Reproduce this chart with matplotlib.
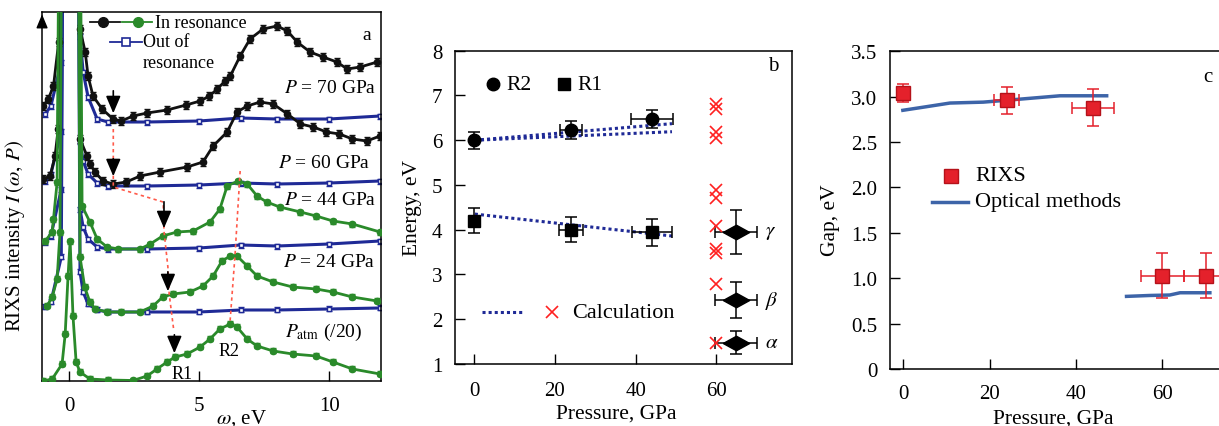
import numpy as np
import matplotlib
matplotlib.use("Agg")
import matplotlib.pyplot as plt

plt.rcParams['font.family'] = 'serif'
plt.rcParams['font.serif'] = ['Liberation Serif', 'DejaVu Serif']
plt.rcParams['mathtext.fontset'] = 'stix'
plt.rcParams['font.size'] = 14

# ---------------- (a) RIXS spectra ----------------
# in resonance, intensity above each baseline
w70 = [-1.0, -0.8, -0.6, -0.4, 0.05, 0.42, 0.62, 0.73, 0.92, 1.27, 1.69, 2.0, 2.46, 3.0, 3.77, 4.5, 5.04,
       5.4, 5.7, 6.0, 6.2, 6.58, 6.96, 7.46, 8.0, 8.4, 8.77, 9.27, 9.77, 10.3, 10.7, 11.2, 11.85]
i70 = [16, 23, 36, 80, 2000, 93, 70, 46, 26, 13, 3, 1, 6, 9, 12, 17, 21,
       26, 33, 41, 46, 66, 83, 93, 96, 91, 80, 70, 65, 60, 53, 55, 60]
w60 = [-1.0, -0.73, -0.54, -0.42, 0.05, 0.42, 0.69, 0.8, 1.0, 1.3, 1.7, 2.2, 2.73, 3.5, 4.54, 5.15, 5.54,
       6.08, 6.46, 6.85, 7.35, 7.85, 8.4, 8.9, 9.4, 9.9, 10.4, 10.9, 11.45, 11.96]
i60 = [7, 10, 30, 57, 2000, 47, 30, 22, 14, 5, 2, 4, 10, 14, 19, 24, 40,
       54, 74, 80, 84, 82, 72, 62, 59, 54, 52, 47, 45, 50]
w44 = [-0.92, -0.65, -0.6, -0.46, 0.05, 0.5, 0.8, 1.08, 1.46, 1.9, 2.73, 3.12, 3.6, 4.15, 4.77, 5.42, 5.8,
       6.08, 6.5, 6.85, 7.23, 7.6, 8.1, 8.9, 9.5, 10.15, 10.9, 11.96]
i44 = [8, 17, 30, 67, 2000, 43, 27, 10, 2, 0, 0, 5, 13, 17, 18, 27, 40,
       63, 68, 65, 53, 47, 42, 37, 33, 28, 25, 17]
w24 = [-0.85, -0.65, -0.46, -0.35, 0.05, 0.42, 0.6, 0.8, 1.0, 1.46, 2.0, 2.73, 3.23, 3.6, 4.0, 4.65, 5.15,
       5.54, 5.88, 6.2, 6.46, 6.85, 7.23, 7.85, 8.6, 9.5, 10.15, 10.9, 11.85]
i24 = [6, 15, 33, 80, 2000, 55, 25, 10, 3, 0, 0, 0, 6, 15, 18, 20, 26,
       36, 51, 56, 56, 46, 36, 30, 25, 23, 20, 15, 11]
wat = [-1.0, -0.65, -0.27, -0.15, -0.04, 0.04, 0.15, 0.27, 0.42, 0.8, 1.5, 2.46, 3.0, 3.38, 3.77, 4.08,
       4.54, 5.04, 5.42, 5.8, 6.2, 6.46, 6.85, 7.23, 7.85, 8.6, 9.5, 10.15, 10.9, 11.96]
iat = [0, 2, 17, 47, 105, 140, 65, 19, 9, 2, 1, 0.5, 5, 12, 19, 24,
       27, 34, 42, 52, 57, 54, 42, 35, 30, 27, 25, 19, 12, 7]

# out of resonance
w_off = [-0.92, -0.7, -0.3, 0.05, 0.42, 0.54, 0.73, 1.08, 1.5, 3.0, 5.0, 6.6, 8.0, 10.0, 11.96]
off70 = [8, 16, 60, 2000, 86, 50, 25, 3, 0, 0, 1, 4, 3, 3, 6]
off60 = [5, 12, 55, 2000, 45, 25, 12, 3, 0, 0, 1, 3, 2, 3, 5]
off44 = [7, 13, 60, 2000, 40, 22, 10, 2, 0, 0, 1, 4, 3, 5, 8]
off24 = [5, 10, 55, 2000, 40, 20, 8, 2, 0, 0, 0, 2, 2, 3, 4]

base = {'70': 259, '60': 195, '44': 132, '24': 69, 'atm': 0}

# R1 / R2 guide lines and arrows (omega, intensity)
r1_w = [1.7, 1.7, 3.62, 3.65, 3.8, 3.85, 4.02]
r1_i = [252, 194, 179, 150, 114, 87, 52]
r2_w = [6.58, 6.38, 6.19]
r2_i = [210, 125, 59]
arrows = [(1.7, 293, 265), (1.7, 225, 202), (3.65, 182, 150), (3.8, 112, 87), (4.05, 49, 25)]

# ---------------- (b) peak energies ----------------
p_r2 = [0, 24, 44]
e_r2 = [6.0, 6.23, 6.47]
pe_r2 = [0, 2.8, 5.2]
ee_r2 = [0.19, 0.21, 0.2]
p_r1 = [0, 24, 44]
e_r1 = [4.2, 4.0, 3.94]
pe_r1 = [0, 3, 5]
ee_r1 = [0.28, 0.28, 0.3]
fit_p = [0.2, 49]
fit_r2a = [6.0, 6.37]
fit_r2b = [6.0, 6.19]
fit_r1 = [4.35, 3.86]
calc_e = [6.80, 6.70, 6.18, 6.04, 4.88, 4.72, 4.09, 3.56, 3.47, 2.79, 1.48]
calc_p = 60
exc_p = 64.8
exc_e = [3.95, 2.43, 1.48]
exc_ee = [0.49, 0.4, 0.26]
exc_pe = 5.2
exc_lab = [r'$\gamma$', r'$\beta$', r'$\alpha$']

# ---------------- (c) gap ----------------
gap_p = [0, 24, 44, 60, 70]
gap_e = [3.04, 2.96, 2.88, 1.03, 1.03]
gap_pe = [0, 2.9, 4.9, 5, 5]
gap_ee = [0.1, 0.15, 0.2, 0.25, 0.25]
opt1_p = [-0.1, 5.4, 10.8, 18.5, 26.3, 36.3, 47.1]
opt1_g = [2.85, 2.89, 2.93, 2.94, 2.97, 3.01, 3.01]
opt2_p = [51.7, 57.1, 61.7, 64.1, 71]
opt2_g = [0.80, 0.81, 0.815, 0.84, 0.84]

BLACK = '#111111'
GREEN = '#2a8a2a'
NAVY = '#1f2a96'
RED = '#e4212b'
DASH = '#ff5a4a'
OPT = '#3d64a8'

fig = plt.figure(figsize=(12.19, 4.27), dpi=100)

# ===== panel a =====
ax = fig.add_axes([0.0345, 0.1054, 0.2781, 0.8653])
for key, vals in [('70', off70), ('60', off60), ('44', off44), ('24', off24)]:
    y = np.array(vals, float) + base[key]
    ax.errorbar(w_off, y, yerr=2.5, color=NAVY, marker='s', mfc='white', mec=NAVY, ms=3.5,
                lw=2.2, elinewidth=0.9, capsize=2, zorder=2)

for w, vals, key, col, err in [(w70, i70, '70', BLACK, 4), (w60, i60, '60', BLACK, 4),
                               (w44, i44, '44', GREEN, 2.5), (w24, i24, '24', GREEN, 2.5),
                               (wat, iat, 'atm', GREEN, 2.5)]:
    y = np.array(vals, float) + base[key]
    ax.errorbar(w, y, yerr=err, color=col, marker='o', ms=4.5, lw=2.0, elinewidth=0.9,
                capsize=2.5, zorder=3)

ax.plot(r1_w, r1_i, color=DASH, ls=(0, (2, 2)), lw=1.2, zorder=4)
ax.plot(r2_w, r2_i, color=DASH, ls=(0, (2, 2)), lw=1.2, zorder=4)
for xw, y0, y1 in arrows:
    ax.annotate('', xy=(xw, y1), xytext=(xw, y0),
                arrowprops=dict(arrowstyle='-|>,head_width=0.32,head_length=0.75', color='k', lw=1.2),
                zorder=5)

ax.set_xlim(-1.04, 12.0)
ax.set_ylim(0, 369.5)
ax.set_xticks([0, 5, 10])
ax.set_yticks([])
ax.tick_params(axis='x', direction='in', length=7, width=1, pad=11, labelsize=15)
for s in ax.spines.values():
    s.set_linewidth(1.1)
ax.annotate('', xy=(0, 1.0), xytext=(0, 0.95), xycoords='axes fraction',
            arrowprops=dict(arrowstyle='-|>,head_width=0.25,head_length=0.6', color='k', lw=1))
ax.set_xlabel(r'$\omega$, eV', fontsize=15)
ax.xaxis.set_label_coords(0.587, -0.07)
ax.set_ylabel(r'RIXS intensity $I\,(\omega,\,P)$', fontsize=15)
ax.yaxis.set_label_coords(-0.045, 0.395)

ax.text(11.46, 347, 'a', fontsize=14, ha='center', va='center')
for txt, xw, yi in [(r'$P$ = 70 GPa', 11.8, 294), (r'$P$ = 60 GPa', 11.58, 219),
                    (r'$P$ = 44 GPa', 11.8, 182), (r'$P$ = 24 GPa', 11.77, 119),
                    (r'$P_{\rm atm}$ (/20)', 11.27, 50)]:
    ax.text(xw, yi, txt, fontsize=14, ha='right', va='center')
ax.text(4.35, 7, 'R1', fontsize=13, ha='center', va='center')
ax.text(6.15, 30, 'R2', fontsize=13, ha='center', va='center')

# legend of panel a
tr = ax.transAxes
ax.plot([0.1416, 0.2301], [0.9716, 0.9716], color=BLACK, lw=1.3, transform=tr)
ax.plot([0.18], [0.9716], 'o', color=BLACK, ms=7, transform=tr)
ax.plot([0.236, 0.3245], [0.9716, 0.9716], color=GREEN, lw=1.3, transform=tr)
ax.plot([0.283], [0.9716], 'o', color=GREEN, ms=7, transform=tr)
ax.text(0.3333, 0.9716, 'In resonance', transform=tr, fontsize=13, va='center')
ax.plot([0.2006, 0.295], [0.9175, 0.9175], color=NAVY, lw=1.3, transform=tr)
ax.plot([0.2478], [0.9175], 's', mfc='white', mec=NAVY, ms=6, mew=1.2, transform=tr)
ax.text(0.298, 0.9175, 'Out of', transform=tr, fontsize=13, va='center')
ax.text(0.298, 0.8633, 'resonance', transform=tr, fontsize=13, va='center')

# ===== panel b =====
bx = fig.add_axes([0.3733, 0.1452, 0.2767, 0.7337])
bx.plot(fit_p, fit_r2a, color=NAVY, ls=(0, (1, 1)), lw=2.2, zorder=2)
bx.plot(fit_p, fit_r2b, color=NAVY, ls=(0, (1, 1)), lw=2.2, zorder=2)
bx.plot(fit_p, fit_r1, color=NAVY, ls=(0, (1, 1)), lw=2.2, zorder=2)
bx.errorbar(p_r2, e_r2, xerr=pe_r2, yerr=ee_r2, fmt='o', color='k', ms=9, capsize=4,
            elinewidth=1.1, capthick=1.1, zorder=3)
bx.errorbar(p_r1, e_r1, xerr=pe_r1, yerr=ee_r1, fmt='s', color='k', ms=9, capsize=4,
            elinewidth=1.1, capthick=1.1, zorder=3)
bx.plot([calc_p] * len(calc_e), calc_e, 'x', color='#ff2020', ms=8, mew=1.2, zorder=4)
diamond = [(-1, 0), (0, 0.55), (1, 0), (0, -0.55), (-1, 0)]
bx.errorbar([exc_p] * 3, exc_e, xerr=exc_pe, yerr=exc_ee, fmt='none', ecolor='k', capsize=4,
            elinewidth=1.1, capthick=1.1, zorder=3)
bx.plot([exc_p] * 3, exc_e, ls='none', marker=diamond, color='k', ms=19, zorder=4)
for e, lab in zip(exc_e, exc_lab):
    bx.text(72, e, lab, fontsize=15, ha='left', va='center')

bx.set_xlim(-4.7, 78.8)
bx.set_ylim(1, 8)
bx.set_xticks([0, 20, 40, 60])
bx.set_yticks(range(1, 9))
bx.tick_params(direction='in', length=7, width=1, labelsize=15)
bx.tick_params(axis='x', pad=12)
bx.tick_params(axis='y', pad=9)
for s in bx.spines.values():
    s.set_linewidth(1.1)
bx.set_xlabel('Pressure, GPa', fontsize=15.5)
bx.xaxis.set_label_coords(0.477, -0.125)
bx.set_ylabel('Energy, eV', fontsize=15.5)
bx.yaxis.set_label_coords(-0.098, 0.5)
bx.text(74.0, 7.67, 'b', fontsize=15, ha='center', va='center')

bx.plot([4.7], [7.25], 'o', color='k', ms=9)
bx.text(7.9, 7.25, 'R2', fontsize=15.5, va='center')
bx.plot([22.3], [7.25], 's', color='k', ms=9)
bx.text(25.5, 7.25, 'R1', fontsize=15.5, va='center')
bx.plot([2.0, 12.1], [2.16, 2.16], color=NAVY, ls=(0, (1, 1)), lw=2.2)
bx.plot([19.3], [2.16], 'x', color='#ff2020', ms=8, mew=1.2)
bx.text(24.3, 2.16, 'Calculation', fontsize=16, va='center')

# ===== panel c =====
cx = fig.add_axes([0.7301, 0.1335, 0.2748, 0.7440])
cx.plot(opt1_p, opt1_g, color=OPT, lw=2.5, zorder=2)
cx.plot(opt2_p, opt2_g, color=OPT, lw=2.5, zorder=2)
cx.errorbar(gap_p, gap_e, xerr=gap_pe, yerr=gap_ee, fmt='s', color=RED, mfc=RED, mec='#b5121a',
            ms=10, capsize=4, elinewidth=1.1, capthick=1.1, zorder=3)
cx.set_xlim(-3.08, 74.5)
cx.set_ylim(0, 3.5)
cx.set_xticks([0, 20, 40, 60])
cx.set_yticks([0, 0.5, 1.0, 1.5, 2.0, 2.5, 3.0, 3.5])
cx.set_yticklabels(['0', '0.5', '1.0', '1.5', '2.0', '2.5', '3.0', '3.5'])
cx.tick_params(direction='in', length=7, width=1, labelsize=15)
cx.tick_params(axis='x', pad=11)
cx.tick_params(axis='y', pad=9)
for s in cx.spines.values():
    s.set_linewidth(1.1)
cx.set_xlabel('Pressure, GPa', fontsize=15.5)
cx.xaxis.set_label_coords(0.487, -0.124)
cx.set_ylabel('Gap, eV', fontsize=15.5)
cx.yaxis.set_label_coords(-0.149, 0.47)
cx.text(70.5, 3.22, 'c', fontsize=15, ha='center', va='center')

cx.plot([11.0], [2.13], 's', color=RED, mec='#b5121a', ms=10)
cx.text(16.6, 2.13, 'RIXS', fontsize=16, va='center')
cx.plot([6.6, 15.0], [1.84, 1.84], color=OPT, lw=2.5)
cx.text(16.6, 1.84, 'Optical methods', fontsize=16, va='center')

fig.savefig('out.png', dpi=100)
